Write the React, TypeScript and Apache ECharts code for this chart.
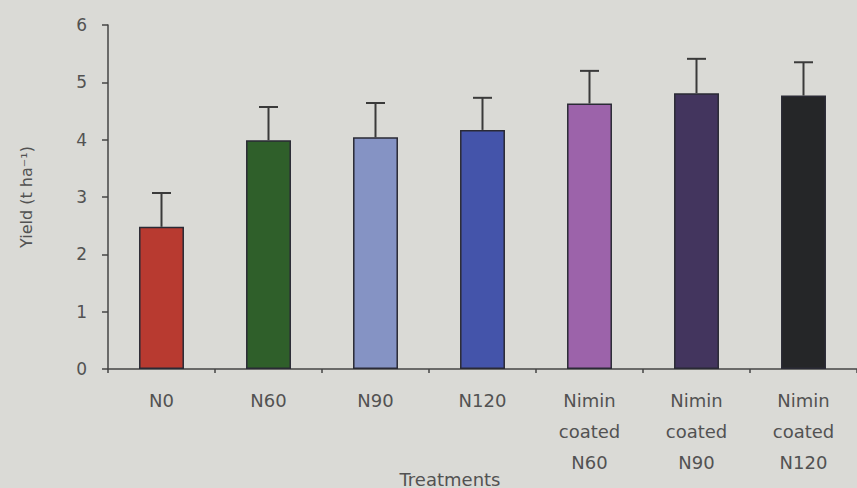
import React, { useEffect, useRef } from "react";
import * as echarts from "echarts";

const categories = [
  "N0",
  "N60",
  "N90",
  "N120",
  "Nimin\ncoated\nN60",
  "Nimin\ncoated\nN90",
  "Nimin\ncoated\nN120",
];
const yieldValues = [2.48, 3.99, 4.04, 4.17, 4.63, 4.81, 4.77];
const errorValues = [0.59, 0.58, 0.6, 0.56, 0.57, 0.6, 0.58];
const barColors = ["#b83a30", "#2f5f2a", "#8593c4", "#4454aa", "#9c63aa", "#43355e", "#252628"];
const yTicks = { min: 0, max: 6, interval: 1 };

export default function App() {
  const ref = useRef<HTMLDivElement>(null);
  useEffect(() => {
    if (!ref.current) return;
    const chart = echarts.init(ref.current, null, { renderer: "svg" });
    const textColor = "#525252";
    const font = "'DejaVu Sans', 'Liberation Sans', Arial, sans-serif";
    chart.setOption({
      animation: false,
      backgroundColor: "#dadad6",
      grid: { left: 108, right: 0, top: 25, bottom: 119, containLabel: false },
      xAxis: {
        type: "category",
        data: categories,
        axisLine: { show: true, lineStyle: { color: "#444", width: 1.5 } },
        axisTick: { show: true, length: 4, lineStyle: { color: "#444", width: 1.5 } },
        axisLabel: {
          color: textColor,
          fontSize: 18,
          fontFamily: font,
          lineHeight: 31,
          margin: 16,
          interval: 0,
        },
      },
      yAxis: {
        type: "value",
        min: yTicks.min,
        max: yTicks.max,
        interval: yTicks.interval,
        name: "Yield (t ha\u207B\u00B9)",
        nameLocation: "middle",
        nameGap: 74,
        nameTextStyle: { color: textColor, fontSize: 16, fontFamily: font },
        splitLine: { show: false },
        axisLine: { show: true, lineStyle: { color: "#444", width: 1.5 } },
        axisTick: { show: true, length: 6, lineStyle: { color: "#444", width: 1.5 } },
        axisLabel: { color: textColor, fontSize: 17, fontFamily: font, margin: 21 },
      },
      graphic: [
        {
          type: "text",
          x: 450,
          y: 479,
          style: {
            text: "Treatments",
            fill: textColor,
            fontSize: 18,
            fontFamily: font,
            textAlign: "center",
            textVerticalAlign: "middle",
          },
        },
      ],
      series: [
        {
          type: "bar",
          barWidth: "42%",
          data: yieldValues.map((v, i) => ({
            value: v,
            itemStyle: {
              color: barColors[i],
              borderColor: "#2a2a35",
              borderWidth: 1.5,
            },
          })),
          z: 2,
        },
        {
          type: "custom",
          z: 3,
          data: yieldValues.map((v, i) => [i, v, v + errorValues[i]]),
          renderItem: (params: any, api: any) => {
            const i = api.value(0);
            const base = api.coord([i, api.value(1)]);
            const top = api.coord([i, api.value(2)]);
            const half = 9.5;
            const style = { stroke: "#3a3a3a", lineWidth: 2 };
            return {
              type: "group",
              children: [
                { type: "line", shape: { x1: base[0], y1: base[1], x2: top[0], y2: top[1] }, style },
                { type: "line", shape: { x1: top[0] - half, y1: top[1], x2: top[0] + half, y2: top[1] }, style },
              ],
            };
          },
        },
      ],
    });
    return () => chart.dispose();
  }, []);
  return (
    <div
      ref={ref}
      style={{ position: "fixed", left: 0, top: 0, width: 857, height: 488 }}
    />
  );
}
